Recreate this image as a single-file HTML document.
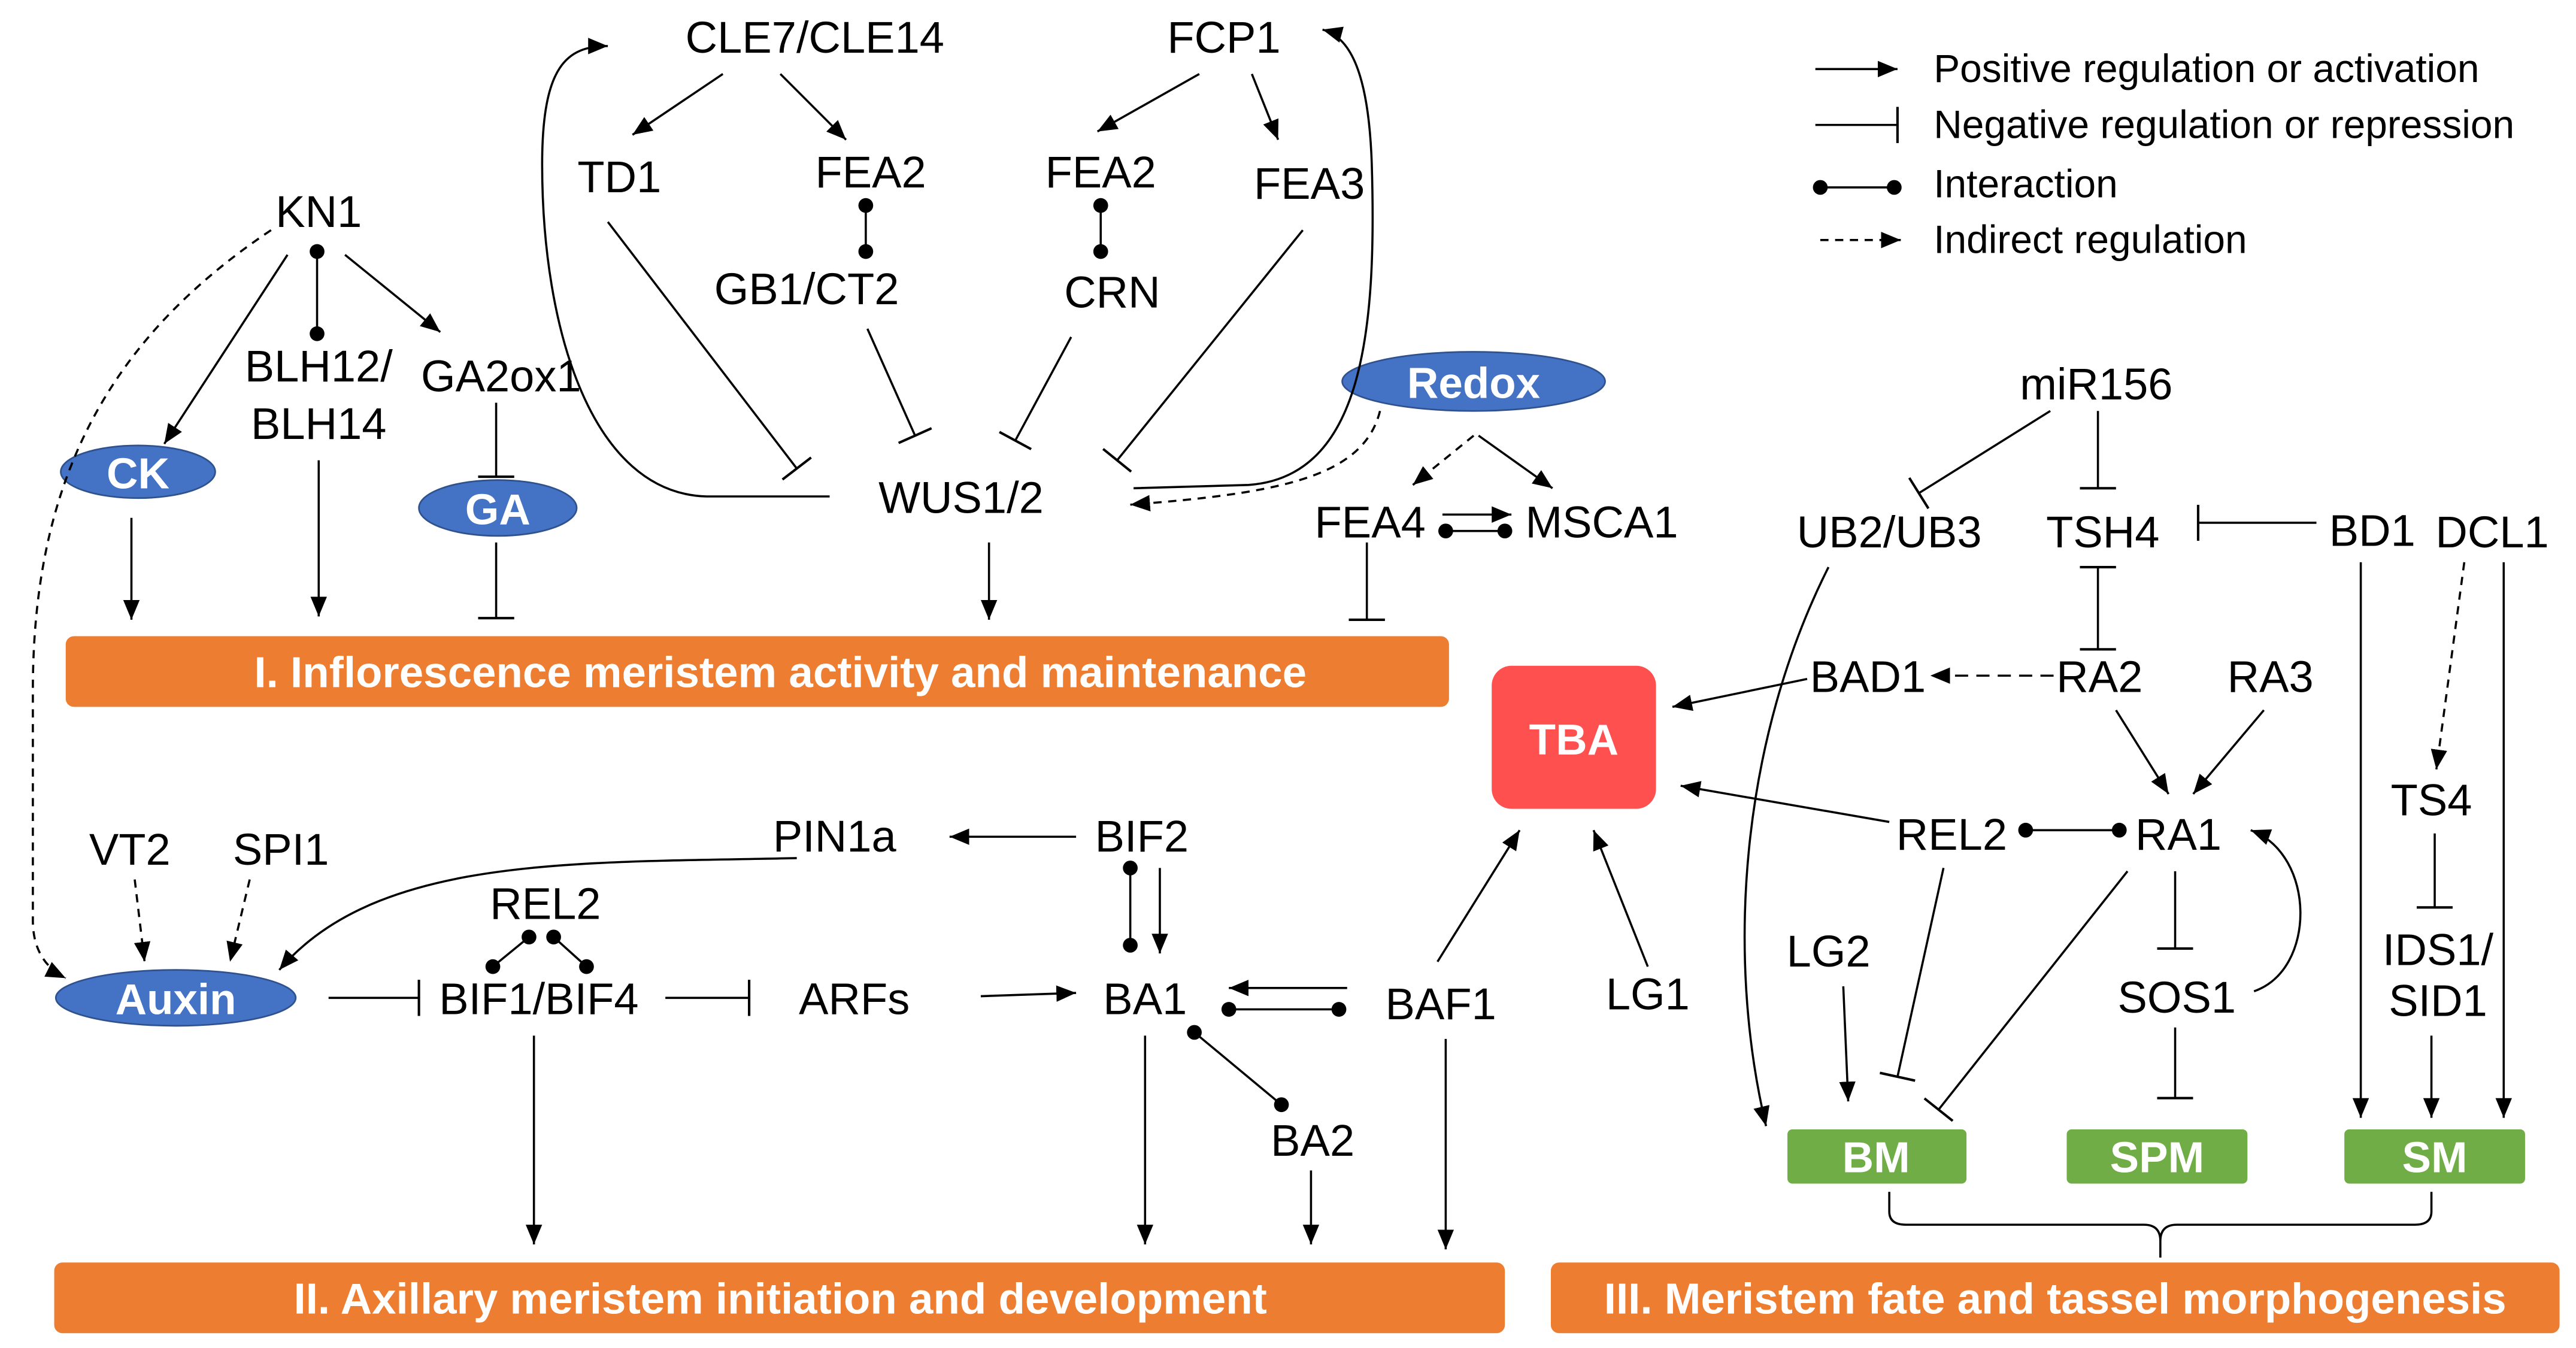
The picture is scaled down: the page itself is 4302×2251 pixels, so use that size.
<!DOCTYPE html>
<html><head><meta charset="utf-8"><style>
html,body{margin:0;padding:0;background:#fff;}
svg{display:block;}
text{font-family:"Liberation Sans",Arial,sans-serif;}
.l{font-size:27px;fill:#000;text-anchor:middle;}
.h{font-size:26.5px;font-weight:bold;fill:#fff;text-anchor:middle;}
.e{stroke:#000;stroke-width:1.3;fill:none;}
</style></head><body>
<svg width="4302" height="2251" viewBox="0 0 1568 820" preserveAspectRatio="none" xmlns="http://www.w3.org/2000/svg">
<defs>
<marker id="a" markerUnits="userSpaceOnUse" markerWidth="14" markerHeight="12" refX="12" refY="6" orient="auto"><path d="M0,1 L12,6 L0,11 z" fill="#000"/></marker>
<marker id="t" markerUnits="userSpaceOnUse" markerWidth="4" markerHeight="22" refX="2" refY="11" orient="auto"><path d="M2,0 L2,22" stroke="#000" stroke-width="1.5"/></marker>
<marker id="d" markerUnits="userSpaceOnUse" markerWidth="12" markerHeight="12" refX="6" refY="6"><circle cx="6" cy="6" r="4.5" fill="#000"/></marker>
</defs>
<rect width="1568" height="820" fill="#fff"/>
<!-- legend -->
<line class="e" x1="1105" y1="42" x2="1155" y2="42" marker-end="url(#a)"/>
<line class="e" x1="1105" y1="76" x2="1155" y2="76" marker-end="url(#t)"/>
<line class="e" x1="1108" y1="114" x2="1153" y2="114" marker-start="url(#d)" marker-end="url(#d)"/>
<line class="e" x1="1108" y1="146" x2="1157" y2="146" stroke-dasharray="5,4" marker-end="url(#a)"/>
<text x="1177" y="50" font-size="24">Positive regulation or activation</text>
<text x="1177" y="84" font-size="24">Negative regulation or repression</text>
<text x="1177" y="120" font-size="24">Interaction</text>
<text x="1177" y="154" font-size="24">Indirect regulation</text>
<!-- bars -->
<rect x="40" y="387" width="842" height="43" rx="5" fill="#ed7d31"/>
<text class="h" x="475" y="418">I. Inflorescence meristem activity and maintenance</text>
<rect x="33" y="768" width="883" height="43" rx="5" fill="#ed7d31"/>
<text class="h" x="475" y="799">II. Axillary meristem initiation and development</text>
<rect x="944" y="768" width="614" height="43" rx="5" fill="#ed7d31"/>
<text class="h" x="1251" y="799">III. Meristem fate and tassel morphogenesis</text>
<rect x="908" y="405" width="100" height="87" rx="12" fill="#ff5050"/>
<text class="h" x="958" y="459" font-size="27">TBA</text>
<rect x="1088" y="687" width="109" height="33" rx="3" fill="#70ad47"/><text class="h" x="1142" y="713">BM</text>
<rect x="1258" y="687" width="110" height="33" rx="3" fill="#70ad47"/><text class="h" x="1313" y="713">SPM</text>
<rect x="1427" y="687" width="110" height="33" rx="3" fill="#70ad47"/><text class="h" x="1482" y="713">SM</text>
<g fill="#4472c4" stroke="#2f528f" stroke-width="1">
<ellipse cx="84" cy="287" rx="47" ry="16"/><ellipse cx="303" cy="309" rx="48" ry="17"/>
<ellipse cx="897" cy="232" rx="80" ry="18"/><ellipse cx="107" cy="607" rx="73" ry="17"/></g>
<text class="h" x="84" y="297" font-size="27">CK</text><text class="h" x="303" y="319" font-size="27">GA</text>
<text class="h" x="897" y="242" font-size="27">Redox</text><text class="h" x="107" y="617" font-size="27">Auxin</text>
<!-- labels -->
<g>
<text class="l" x="496" y="32">CLE7/CLE14</text><text class="l" x="745" y="32">FCP1</text>
<text class="l" x="377" y="117">TD1</text><text class="l" x="530" y="114">FEA2</text>
<text class="l" x="670" y="114">FEA2</text><text class="l" x="797" y="121">FEA3</text>
<text class="l" x="194" y="138">KN1</text><text class="l" x="491" y="185">GB1/CT2</text>
<text class="l" x="677" y="187">CRN</text><text class="l" x="194" y="232">BLH12/</text>
<text class="l" x="194" y="267">BLH14</text><text class="l" x="305" y="238">GA2ox1</text>
<text class="l" x="585" y="312">WUS1/2</text><text class="l" x="834" y="327">FEA4</text>
<text class="l" x="975" y="327">MSCA1</text><text class="l" x="1276" y="243">miR156</text>
<text class="l" x="1150" y="333">UB2/UB3</text><text class="l" x="1280" y="333">TSH4</text>
<text class="l" x="1444" y="332">BD1</text><text class="l" x="1517" y="333">DCL1</text>
<text class="l" x="1137" y="421">BAD1</text><text class="l" x="1278" y="421">RA2</text>
<text class="l" x="1382" y="421">RA3</text><text class="l" x="1480" y="496">TS4</text>
<text class="l" x="1188" y="517">REL2</text><text class="l" x="1326" y="517">RA1</text>
<text class="l" x="1113" y="588">LG2</text><text class="l" x="1325" y="616">SOS1</text>
<text class="l" x="1484" y="587">IDS1/</text><text class="l" x="1484" y="618">SID1</text>
<text class="l" x="79" y="526">VT2</text><text class="l" x="171" y="526">SPI1</text>
<text class="l" x="508" y="518">PIN1a</text><text class="l" x="695" y="518">BIF2</text>
<text class="l" x="332" y="559">REL2</text><text class="l" x="328" y="617">BIF1/BIF4</text>
<text class="l" x="520" y="617">ARFs</text><text class="l" x="697" y="617">BA1</text>
<text class="l" x="877" y="620">BAF1</text><text class="l" x="1003" y="614">LG1</text>
<text class="l" x="799" y="703">BA2</text>
</g>
<!-- edges -->
<g class="e">
<line x1="440" y1="45" x2="385" y2="82" marker-end="url(#a)"/>
<line x1="475" y1="45" x2="515" y2="85" marker-end="url(#a)"/>
<line x1="730" y1="45" x2="668" y2="80" marker-end="url(#a)"/>
<line x1="762" y1="45" x2="778" y2="85" marker-end="url(#a)"/>
<path d="M505,302 L430,302 C360,300 330,200 330,100 C330,40 345,28 370,28" marker-end="url(#a)"/>
<path d="M690,297 L760,295 C830,290 838,200 835,100 C833,40 820,22 805,18" marker-end="url(#a)"/>
<line x1="370" y1="135" x2="485" y2="285" marker-end="url(#t)"/>
<line x1="527" y1="125" x2="527" y2="153" marker-start="url(#d)" marker-end="url(#d)"/>
<line x1="528" y1="200" x2="557" y2="265" marker-end="url(#t)"/>
<line x1="670" y1="125" x2="670" y2="153" marker-start="url(#d)" marker-end="url(#d)"/>
<line x1="652" y1="205" x2="618" y2="268" marker-end="url(#t)"/>
<line x1="793" y1="140" x2="680" y2="280" marker-end="url(#t)"/>
<path d="M840,250 C830,290 780,300 688,307" stroke-dasharray="5,4" marker-end="url(#a)"/>
<line x1="897" y1="265" x2="860" y2="295" stroke-dasharray="5,4" marker-end="url(#a)"/>
<line x1="900" y1="265" x2="945" y2="297" marker-end="url(#a)"/>
<line x1="878" y1="313" x2="920" y2="313" marker-end="url(#a)"/>
<line x1="880" y1="323" x2="916" y2="323" marker-start="url(#d)" marker-end="url(#d)"/>
<line x1="832" y1="330" x2="832" y2="377" marker-end="url(#t)"/>
<line x1="602" y1="330" x2="602" y2="377" marker-end="url(#a)"/>
<path d="M165,140 C60,210 20,300 20,420 L20,560 C20,580 30,590 40,595" stroke-dasharray="5,4" marker-end="url(#a)"/>
<line x1="175" y1="155" x2="100" y2="270" marker-end="url(#a)"/>
<line x1="193" y1="153" x2="193" y2="203" marker-start="url(#d)" marker-end="url(#d)"/>
<line x1="210" y1="155" x2="268" y2="202" marker-end="url(#a)"/>
<line x1="302" y1="245" x2="302" y2="290" marker-end="url(#t)"/>
<line x1="302" y1="330" x2="302" y2="376" marker-end="url(#t)"/>
<line x1="80" y1="315" x2="80" y2="377" marker-end="url(#a)"/>
<line x1="194" y1="280" x2="194" y2="375" marker-end="url(#a)"/>
<line x1="82" y1="535" x2="88" y2="585" stroke-dasharray="5,4" marker-end="url(#a)"/>
<line x1="152" y1="535" x2="140" y2="585" stroke-dasharray="5,4" marker-end="url(#a)"/>
<path d="M485,522 C350,525 230,520 170,590" marker-end="url(#a)"/>
<line x1="655" y1="509" x2="578" y2="509" marker-end="url(#a)"/>
<line x1="688" y1="528" x2="688" y2="575" marker-start="url(#d)" marker-end="url(#d)"/>
<line x1="706" y1="528" x2="706" y2="580" marker-end="url(#a)"/>
<line x1="322" y1="570" x2="300" y2="588" marker-start="url(#d)" marker-end="url(#d)"/>
<line x1="337" y1="570" x2="357" y2="588" marker-start="url(#d)" marker-end="url(#d)"/>
<line x1="200" y1="607" x2="255" y2="607" marker-end="url(#t)"/>
<line x1="405" y1="607" x2="456" y2="607" marker-end="url(#t)"/>
<line x1="597" y1="606" x2="655" y2="604" marker-end="url(#a)"/>
<line x1="820" y1="601" x2="748" y2="601" marker-end="url(#a)"/>
<line x1="748" y1="614" x2="815" y2="614" marker-start="url(#d)" marker-end="url(#d)"/>
<line x1="727" y1="628" x2="780" y2="672" marker-start="url(#d)" marker-end="url(#d)"/>
<line x1="325" y1="630" x2="325" y2="757" marker-end="url(#a)"/>
<line x1="697" y1="630" x2="697" y2="757" marker-end="url(#a)"/>
<line x1="798" y1="712" x2="798" y2="757" marker-end="url(#a)"/>
<line x1="880" y1="632" x2="880" y2="760" marker-end="url(#a)"/>
<line x1="875" y1="585" x2="925" y2="505" marker-end="url(#a)"/>
<line x1="1003" y1="588" x2="970" y2="505" marker-end="url(#a)"/>
<line x1="1100" y1="413" x2="1018" y2="430" marker-end="url(#a)"/>
<line x1="1150" y1="500" x2="1023" y2="478" marker-end="url(#a)"/>
<line x1="1250" y1="411" x2="1175" y2="411" stroke-dasharray="8,5" marker-end="url(#a)"/>
<line x1="1248" y1="250" x2="1168" y2="300" marker-end="url(#t)"/>
<line x1="1277" y1="250" x2="1277" y2="297" marker-end="url(#t)"/>
<line x1="1410" y1="318" x2="1338" y2="318" marker-end="url(#t)"/>
<line x1="1277" y1="345" x2="1277" y2="395" marker-start="url(#t)" marker-end="url(#t)"/>
<line x1="1288" y1="432" x2="1320" y2="483" marker-end="url(#a)"/>
<line x1="1378" y1="432" x2="1335" y2="483" marker-end="url(#a)"/>
<line x1="1233" y1="505" x2="1290" y2="505" marker-start="url(#d)" marker-end="url(#d)"/>
<line x1="1324" y1="530" x2="1324" y2="577" marker-end="url(#t)"/>
<path d="M1372,603 C1410,590 1410,520 1370,505" marker-end="url(#a)"/>
<line x1="1324" y1="625" x2="1324" y2="668" marker-end="url(#t)"/>
<line x1="1295" y1="530" x2="1180" y2="675" marker-end="url(#t)"/>
<line x1="1183" y1="528" x2="1155" y2="655" marker-end="url(#t)"/>
<line x1="1122" y1="600" x2="1125" y2="670" marker-end="url(#a)"/>
<path d="M1113,345 C1060,450 1050,580 1075,685" marker-end="url(#a)"/>
<line x1="1437" y1="342" x2="1437" y2="680" marker-end="url(#a)"/>
<line x1="1524" y1="342" x2="1524" y2="680" marker-end="url(#a)"/>
<line x1="1500" y1="342" x2="1483" y2="468" stroke-dasharray="5,4" marker-end="url(#a)"/>
<line x1="1482" y1="507" x2="1482" y2="552" marker-end="url(#t)"/>
<line x1="1480" y1="630" x2="1480" y2="680" marker-end="url(#a)"/>
<path d="M1150,725 L1150,737 Q1150,745 1160,745 L1305,745 Q1315,745 1315,755 L1315,765 M1315,755 Q1315,745 1325,745 L1470,745 Q1480,745 1480,737 L1480,725"/>
</g>
</svg>
</body></html>
